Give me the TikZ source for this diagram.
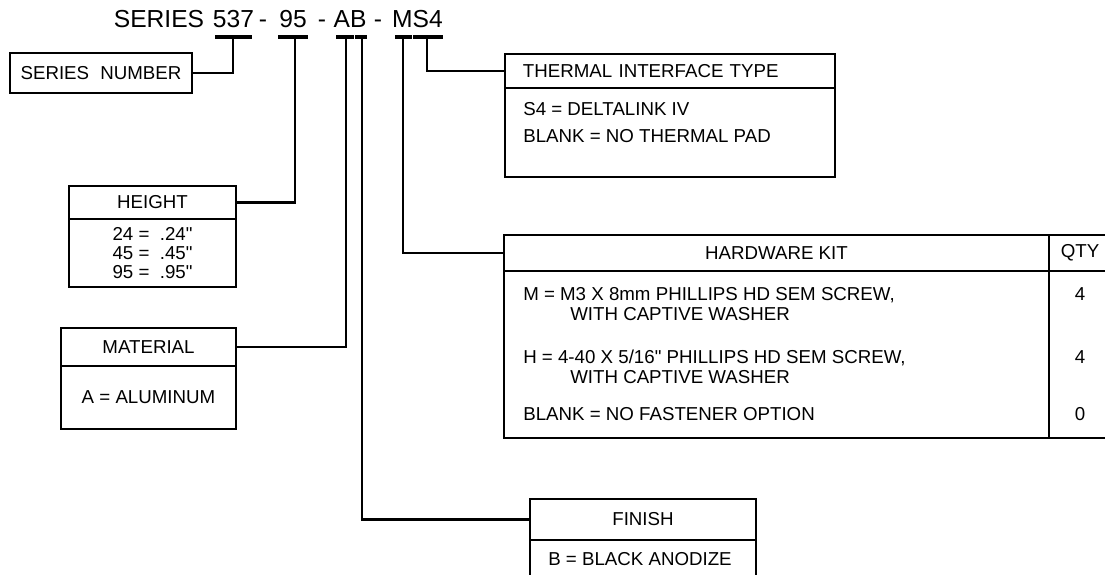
\documentclass[tikz,border=0pt]{standalone}
\usepackage{fontspec}
\setmainfont{Liberation Sans}

\begin{document}
\begin{tikzpicture}[
    x=0.025cm, y=-0.025cm,
    font=\fontsize{13.3}{15}\selectfont,
    code/.style={
        inner sep=0pt,
        anchor=base,
        font=\fontsize{17.5}{20}\selectfont
    },
    hdr/.style={
        draw,
        line width=1.8pt,
        inner sep=0pt,
        align=center
    },
    cell/.style={
        draw,
        line width=1.8pt,
        inner sep=0pt,
        align=center
    },
    txt/.style={inner sep=0pt, anchor=base west},
    qty/.style={inner sep=0pt, anchor=base},
    link/.style={line width=1.8pt},
    bar/.style={line width=2.6pt}
]

\clip (0,0) rectangle (1105,574);

\node[code] (t-ser) at (159,27) {SERIES};
\node[code] (t-537) at (233.5,27) {537};
\node[code] (t-d1) at (263,27) {-};
\node[code] (t-95) at (293,27) {95};
\node[code] (t-d2) at (322,27) {-};
\node[code] (t-ab) at (350,27) {AB};
\node[code] (t-d3) at (378,27) {-};
\node[code] (t-ms4) at (417.5,27) {MS4};

\foreach \l/\r in {215/252, 278/308, 336/354, 355/367, 395/412, 413/443}
    \draw[bar] (\l,37) -- (\r,37);

\coordinate (s537) at (233,37);
\coordinate (s95) at (295,37);
\coordinate (sA) at (346,37);
\coordinate (sB) at (362,37);
\coordinate (sM) at (403,37);
\coordinate (sS) at (427,37);

\node[hdr, minimum width=4.55cm, minimum height=1cm] (sernum) at (101,73)
    {SERIES\hspace{0.6em}NUMBER};

\node[hdr, minimum width=4.175cm, minimum height=0.825cm] (height) at (152.5,202.5) {HEIGHT};
\node[cell, minimum width=4.175cm, minimum height=1.7cm,
      font=\fontsize{13.3}{13.6}\selectfont] (height-b) at (152.5,253)
    {24 =\ \ .24\textquotedbl\\45 =\ \ .45\textquotedbl\\95 =\ \ .95\textquotedbl};

\node[hdr, minimum width=4.375cm, minimum height=0.95cm] (mat) at (148.5,347) {MATERIAL};
\node[cell, minimum width=4.375cm, minimum height=1.575cm] (mat-b) at (148.5,397.5)
    {A = ALUMINUM};

\node[hdr, minimum width=8.25cm, minimum height=0.85cm, text width=7.35cm, align=left]
    (therm) at (670,71) {THERMAL INTERFACE TYPE};
\node[cell, minimum width=8.25cm, minimum height=2.225cm] (therm-b) at (670,132.5) {};
\node[txt] (therm-1) at (523,115) {S4 = DELTALINK IV};
\node[txt] (therm-2) at (523,142) {BLANK = NO THERMAL PAD};

\node[hdr, minimum width=13.625cm, minimum height=0.9cm] (hw) at (776.5,253) {HARDWARE KIT};
\node[hdr, minimum width=1.55cm, minimum height=0.9cm] (hw-q) at (1080,253) {QTY};
\node[cell, minimum width=13.625cm, minimum height=4.175cm] (hw-b) at (776.5,354.5) {};
\node[cell, minimum width=1.55cm, minimum height=4.175cm] (hw-qb) at (1080,354.5) {};
\node[txt] (hw-1) at (523,300) {M = M3 X 8mm PHILLIPS HD SEM SCREW,};
\node[txt] (hw-1b) at (570,320) {WITH CAPTIVE WASHER};
\node[txt] (hw-2) at (523,363) {H = 4-40 X 5/16\textquotedbl\ PHILLIPS HD SEM SCREW,};
\node[txt] (hw-2b) at (570,383) {WITH CAPTIVE WASHER};
\node[txt] (hw-3) at (523,420) {BLANK = NO FASTENER OPTION};
\node[qty] (q-1) at (1080,300) {4};
\node[qty] (q-2) at (1080,363) {4};
\node[qty] (q-3) at (1080,420) {0};

\node[hdr, minimum width=5.65cm, minimum height=1.025cm] (fin) at (643,519.5) {FINISH};
\node[cell, minimum width=5.65cm, minimum height=1.5cm] (fin-b) at (643,570) {};
\node[txt] (fin-1) at (548,565) {B = BLACK ANODIZE};

\draw[link] (s537) |- (sernum.east);
\draw[link] (s95) |- (height.east);
\draw[link] (sA) |- (mat.east);
\draw[link] (sB) |- (fin.west);
\draw[link] (sM) |- (hw.west);
\draw[link] (sS) |- (therm.west);

\end{tikzpicture}
\end{document}
